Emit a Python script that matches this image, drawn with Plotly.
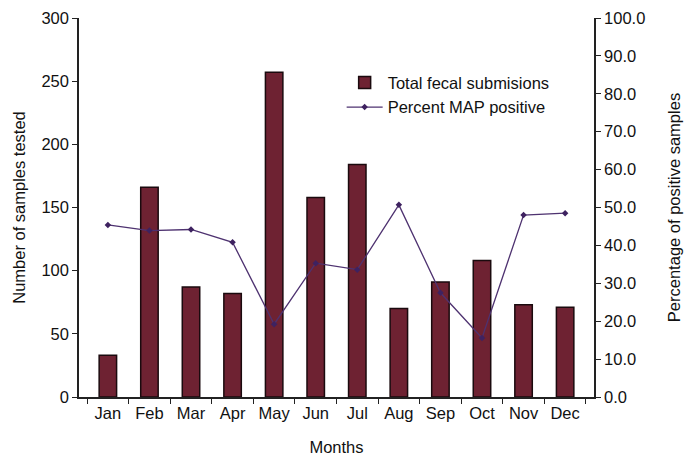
import plotly.graph_objects as go

months = ["Jan", "Feb", "Mar", "Apr", "May", "Jun", "Jul", "Aug", "Sep", "Oct", "Nov", "Dec"]
fecal_submissions = [33, 166, 87, 82, 257, 158, 184, 70, 91, 108, 73, 71]
percent_map_positive = [45.4, 43.9, 44.2, 40.8, 19.2, 35.3, 33.6, 50.7, 27.5, 15.6, 48.0, 48.5]

font_family = "Liberation Sans, Arial, sans-serif"

fig = go.Figure()
fig.add_trace(go.Bar(
    x=months, y=fecal_submissions, name="Total fecal submisions",
    marker=dict(color="#6e2232", line=dict(color="#1a0a0e", width=1.5)),
    width=0.42,
))
fig.add_trace(go.Scatter(
    x=months, y=percent_map_positive, name="Percent MAP positive", yaxis="y2",
    mode="lines+markers",
    line=dict(color="#4e3270", width=1.3),
    marker=dict(symbol="diamond", size=5, color="#3e2260"),
))

axis_common = dict(
    showgrid=False, zeroline=False, showline=True, linecolor="#222", linewidth=1.5,
    ticks="outside", ticklen=5, tickcolor="#222", tickwidth=1.2,
    tickfont=dict(family=font_family, size=16.5, color="#111"),
    automargin=False,
)

fig.update_layout(
    width=699, height=460,
    margin=dict(l=79, r=105, t=18, b=63),
    plot_bgcolor="white", paper_bgcolor="white",
    font=dict(family=font_family, size=16.5, color="#111"),
    xaxis=dict(**axis_common, tickson="boundaries",
               title=dict(text="Months", font=dict(size=16.5), standoff=21)),
    yaxis=dict(**axis_common, range=[0, 300], dtick=50,
               title=dict(text="Number of samples tested", font=dict(size=16.5), standoff=12)),
    yaxis2=dict(**axis_common, range=[0, 100], dtick=10, tickformat=".1f",
                overlaying="y", side="right",
                title=dict(text="Percentage of positive samples", font=dict(size=16.5), standoff=24)),
    legend=dict(x=0.51, y=0.875, xanchor="left", yanchor="top",
                bgcolor="rgba(0,0,0,0)", font=dict(size=16.5),
                tracegroupgap=0, itemwidth=36),
    showlegend=True,
)

fig.write_html("out.html")
